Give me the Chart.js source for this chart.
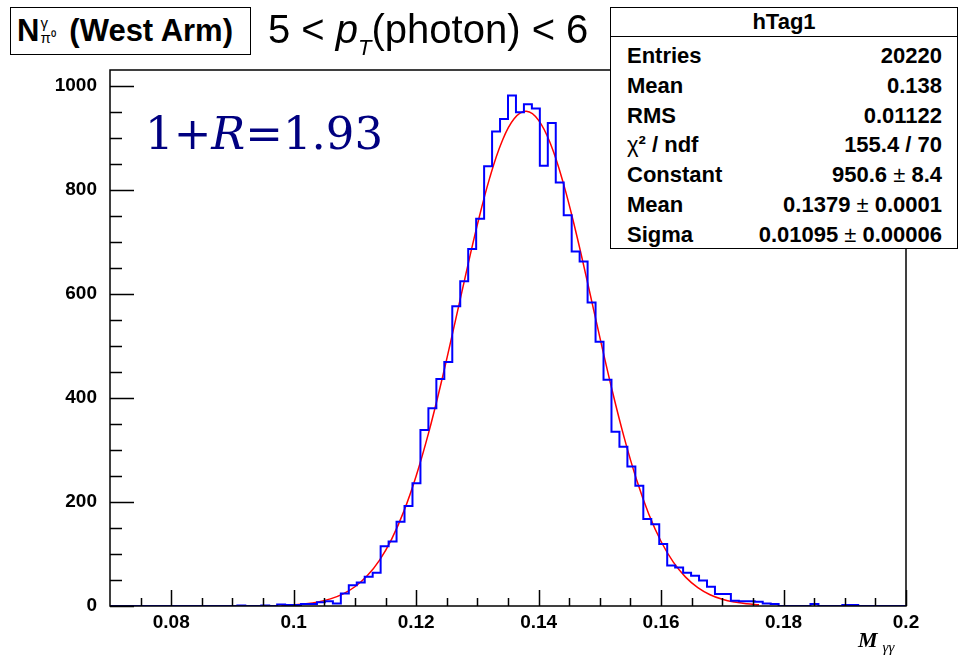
<!DOCTYPE html>
<html>
<head>
<meta charset="utf-8">
<script src="https://cdn.jsdelivr.net/npm/chart.js@4.4.1/dist/chart.umd.min.js"></script>
<style>
  html, body { margin: 0; padding: 0; background: #fff; overflow: hidden; }
  #wrap { position: relative; width: 961px; height: 661px; }
  #c { position: absolute; left: 0; top: 0; }
  .abs { position: absolute; white-space: nowrap; color: #000; }
  #hdr { left: 10px; top: 7px; width: 241px; height: 48px; border: 1.5px solid #000; background: #fff;
         font: bold 31px 'Liberation Sans', Arial, sans-serif; line-height: 46px; padding-left: 6px; box-sizing: border-box; }
  #hdr .scr { display: inline-block; vertical-align: middle; line-height: 15px; font-size: 15px; font-weight: normal; margin: 0 5px 0 1px; position: relative; top: -3px; }
  #pt { left: 268px; top: 6px; font: 40px 'Liberation Sans', Arial, sans-serif; line-height: 46px; }
  #pt i sub { font-size: 22px; position: relative; top: 3px; }
  #stats { left: 610px; top: 7px; width: 348px; height: 242px; border: 1.5px solid #000; background: #fff; box-sizing: border-box;
           font: bold 22px 'Liberation Sans', Arial, sans-serif; }
  #stats .ttl { text-align: center; height: 28px; line-height: 28px; border-bottom: 1.5px solid #000; }
  #stats .rows { padding: 4px 15px 0 16px; }
  #stats .row { display: flex; justify-content: space-between; height: 29.8px; line-height: 29.8px; }
  #rr { left: 145px; top: 112px; font: 45px 'DejaVu Serif', serif; color: #000080; line-height: 44px; }
  #mx { left: 858px; top: 627px; font: bold italic 22px 'Liberation Serif', serif; }
  #mx sub { font: italic 15px 'Liberation Serif', serif; margin-left: 5px; }
</style>
</head>
<body>
<div id="wrap">
  <canvas id="c" width="961" height="661"></canvas>
  <div id="hdr" class="abs">N<span class="scr">γ<br>π⁰</span> (West Arm)</div>
  <div id="pt" class="abs">5 &lt; <i>p<sub>T</sub></i>(photon) &lt; 6</div>
  <div id="stats" class="abs">
    <div class="ttl">hTag1</div>
    <div class="rows">
      <div class="row"><span>Entries</span><span>20220</span></div>
      <div class="row"><span>Mean</span><span>0.138</span></div>
      <div class="row"><span>RMS</span><span>0.01122</span></div>
      <div class="row"><span><span style="font-weight:normal">χ</span>² / ndf</span><span>155.4 / 70</span></div>
      <div class="row"><span>Constant</span><span>950.6 <span style="font-weight:normal">±</span> 8.4</span></div>
      <div class="row"><span>Mean</span><span>0.1379 <span style="font-weight:normal">±</span> 0.0001</span></div>
      <div class="row"><span>Sigma</span><span>0.01095 <span style="font-weight:normal">±</span> 0.00006</span></div>
    </div>
  </div>
  <div id="rr" class="abs">1+<i>R</i>=1.93</div>
  <div id="mx" class="abs">M<sub>γγ</sub></div>
</div>
<script>
// histogram hTag1: 100 bins from 0.07 to 0.2
const xMin = 0.07, xMax = 0.2, binWidth = 0.0013;
const yMax = 1030;
const counts = [
  0, 0, 0, 0, 0, 0, 0, 0, 0, 0,
  0, 0, 0, 0, 0, 0, 1, 0, 0, 1,
  0, 3, 2, 2, 4, 4, 7, 9, 5, 24,
  40, 45, 56, 64, 115, 124, 162, 192, 236, 338,
  380, 436, 469, 576, 624, 686, 744, 845, 912, 936,
  981, 949, 964, 956, 846, 928, 814, 751, 681, 662,
  583, 508, 435, 335, 306, 268, 231, 167, 157, 119,
  78, 74, 64, 58, 49, 37, 23, 23, 10, 9,
  9, 8, 5, 4, 0, 0, 0, 0, 4, 0,
  0, 0, 2, 2, 0, 0, 0, 0, 0, 0
];
// gaussian fit curve
const fitX = [0.098, 0.100, 0.102, 0.104, 0.106, 0.108, 0.110, 0.112, 0.114, 0.116,
  0.118, 0.120, 0.122, 0.124, 0.126, 0.128, 0.130, 0.132, 0.134, 0.136,
  0.138, 0.140, 0.142, 0.144, 0.146, 0.148, 0.150, 0.152, 0.154, 0.156,
  0.158, 0.160, 0.162, 0.164, 0.166, 0.168, 0.170, 0.172, 0.174, 0.176];
const fitY = [1.2, 2.4, 4.4, 7.9, 13.7, 22.9, 37.0, 58.0, 87.8, 128.6,
  182.3, 249.9, 331.2, 424.7, 526.7, 631.6, 732.8, 822.2, 892.2, 936.4,
  950.6, 933.3, 886.2, 814.0, 723.1, 621.2, 516.2, 414.9, 322.5, 242.5,
  176.3, 124.0, 84.4, 55.5, 35.3, 21.7, 12.9, 7.5, 4.2, 2.2];
const xTicks = [0.08, 0.1, 0.12, 0.14, 0.16, 0.18, 0.2];
const xTickLabels = ['0.08', '0.1', '0.12', '0.14', '0.16', '0.18', '0.2'];
const yTicks = [0, 200, 400, 600, 800, 1000];

const histPts = counts.map((c, i) => ({ x: xMin + i * binWidth, y: c }));
histPts.push({ x: xMax, y: counts[counts.length - 1] });
const fitPts = fitX.map((x, i) => ({ x, y: fitY[i] }));

// ROOT-style frame with ticks drawn inward
const rootFrame = {
  id: 'rootFrame',
  afterDatasetsDraw(chart) {
    const { ctx, chartArea: a, scales: { x, y } } = chart;
    ctx.save();
    ctx.strokeStyle = '#000';
    ctx.lineWidth = 1.5;
    ctx.strokeRect(a.left, a.top, a.right - a.left, a.bottom - a.top);
    ctx.beginPath();
    for (let k = 15; k <= 40; k++) {
      const px = Math.round(x.getPixelForValue(k * 0.005)) + 0.5;
      const len = k % 4 === 0 ? 16 : 8;
      ctx.moveTo(px, a.bottom); ctx.lineTo(px, a.bottom - len);
    }
    for (let k = 0; k <= 20; k++) {
      const py = Math.round(y.getPixelForValue(k * 50)) + 0.5;
      const len = k % 4 === 0 ? 24 : 12;
      ctx.moveTo(a.left, py); ctx.lineTo(a.left + len, py);
    }
    ctx.stroke();
    ctx.restore();
  }
};

const tickFont = { family: "'Liberation Sans', Arial, sans-serif", size: 19, weight: 'bold' };

new Chart(document.getElementById('c'), {
  type: 'line',
  data: {
    datasets: [
      { data: histPts, borderColor: '#0000ff', borderWidth: 2, stepped: true, pointRadius: 0, fill: false },
      { data: fitPts, borderColor: '#ff0000', borderWidth: 1.5, tension: 0.4, pointRadius: 0, fill: false }
    ]
  },
  options: {
    responsive: false,
    animation: false,
    events: [],
    layout: { padding: { top: 70, right: 55, left: 0, bottom: 0 } },
    plugins: { legend: { display: false }, tooltip: { enabled: false } },
    scales: {
      x: {
        type: 'linear', min: xMin, max: xMax,
        afterBuildTicks: (s) => { s.ticks = xTicks.map((v) => ({ value: v })); },
        afterFit: (s) => { s.height = 55; },
        grid: { display: false, drawTicks: false },
        border: { display: false },
        ticks: { font: tickFont, color: '#000', padding: 5, maxRotation: 0, autoSkip: false,
                 callback: (v, i) => xTickLabels[i] }
      },
      y: {
        type: 'linear', min: 0, max: yMax,
        afterBuildTicks: (s) => { s.ticks = yTicks.map((v) => ({ value: v })); },
        afterFit: (s) => { s.width = 110; },
        grid: { display: false, drawTicks: false },
        border: { display: false },
        ticks: { font: tickFont, color: '#000', padding: 13, callback: (v) => String(v) }
      }
    }
  },
  plugins: [rootFrame]
});
</script>
</body>
</html>
